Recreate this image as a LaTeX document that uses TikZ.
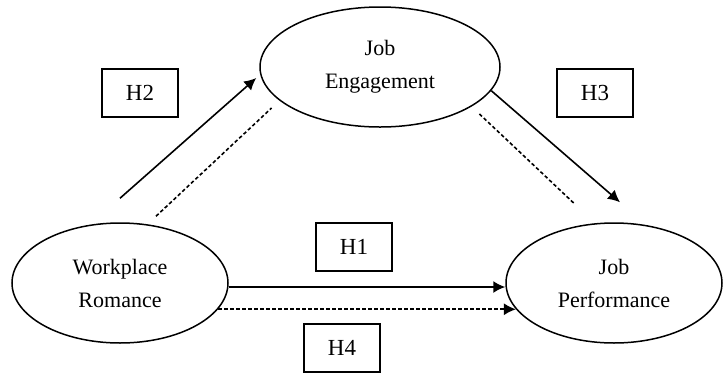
\documentclass[tikz,border=0pt]{standalone}
\usepackage{fontspec}
\setmainfont{Liberation Serif}
\usetikzlibrary{shapes.geometric,arrows.meta}

\begin{document}
\begin{tikzpicture}[x=0.5pt, y=-0.5pt,
  var/.style={ellipse, draw, line width=0.75pt, inner sep=0pt, align=center, font=\fontsize{11}{16.5}\selectfont},
  hyp/.style={rectangle, draw, line width=0.75pt, minimum width=38pt, minimum height=24pt, inner sep=0pt, font=\fontsize{11.5}{13}\selectfont},
  direct/.style={-{Latex[length=6pt,width=6pt]}, line width=0.8pt},
  link/.style={line width=0.8pt, dash pattern=on 1.8pt off 1.2pt},
  indirect/.style={direct, link}]
  \useasboundingbox (0,0) rectangle (724,376);
  \node[var, minimum width=120pt, minimum height=60pt] (Engage) at (380,67) {Job\\Engagement};  % Mediator
  \node[var, minimum width=108pt, minimum height=60pt] (Romance) at (120,283) {Workplace\\Romance};  % Predictor
  \node[var, minimum width=108pt, minimum height=60pt] (Perform) at (614,283) {Job\\Performance};  % Outcome
  \node[hyp] (H1) at (354,247) {H1};  % Hypotheses
  \node[hyp] (H2) at (140,93) {H2};
  \node[hyp] (H3) at (595,93) {H3};
  \node[hyp] (H4) at (342,348) {H4};
  \draw[direct] ([yshift=12pt]Romance.north) -- ([xshift=-1.5pt,yshift=-5.5pt]Engage.west);  % Romance to engagement
  \draw[link] ([xshift=18pt,yshift=3pt]Romance.north) -- ([xshift=-11.5pt,yshift=1pt]Engage.south west);
  \draw[direct] (Engage.-12) -- ([xshift=3pt,yshift=10pt]Perform.north);  % Engagement to performance
  \draw[link] ([xshift=7pt,yshift=-2pt]Engage.south east) -- ([xshift=-19.5pt,yshift=9pt]Perform.north);
  \draw[direct] ([yshift=-2pt]Romance.east) -- ([yshift=-2pt]Perform.west);  % Direct effect
  \draw[indirect] (Romance.-15) -- (Perform.195);  % Mediated effect
\end{tikzpicture}
\end{document}
